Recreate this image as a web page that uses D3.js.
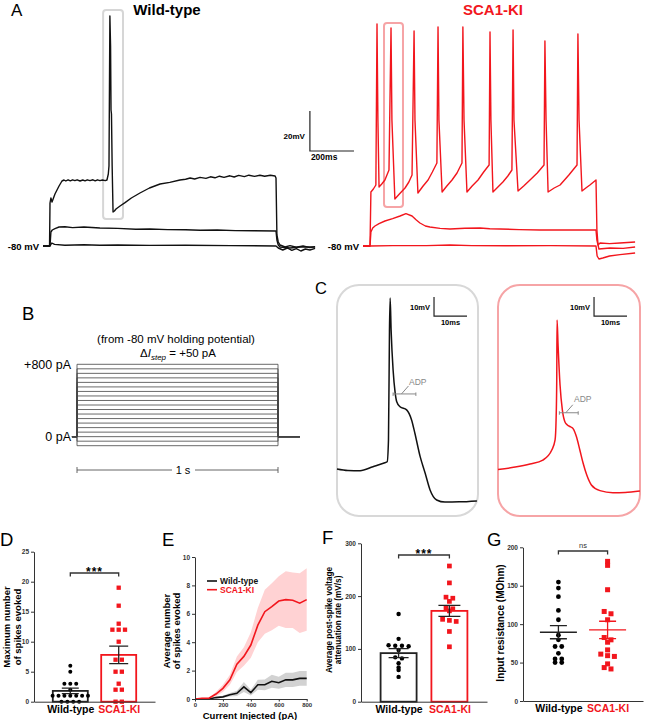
<!DOCTYPE html>
<html>
<head>
<meta charset="utf-8">
<script src="https://cdn.jsdelivr.net/npm/d3@7"></script>
<style>
  body { margin: 0; background: #fff; }
  svg { display: block; font-family: "Liberation Sans", Arial, sans-serif; }
</style>
</head>
<body>
<div id="fig"></div>
<script>
// ---------- data ----------
// A: example current-clamp traces, [time ms from step onset, membrane potential mV]
const wtTop = [[-31,-80],[-2,-80],[0,-58.5],[4,-56],[9,-58],[22,-54],[40,-50],[53,-47.5],[62,-47],[70,-47.5],[80,-46.9],[90,-47.4],[100,-46.9],[110,-47.3],[120,-46.9],[133,-47.5],[145,-47],[155,-47.4],[165,-46.9],[177,-47.3],[190,-46.9],[200,-47.4],[210,-46.9],[221,-47.3],[232,-47],[245,-47.3],[252,-47],[258,-44],[261,-40],[265,35],[268,20],[270,-12],[272,-14],[275,-40],[279,-63],[285,-62.5],[292,-61.5],[310,-60],[332,-58.3],[360,-56],[398,-53.5],[440,-51],[487,-49],[530,-48.2],[575,-47],[600,-46.6],[620,-46],[640,-46.5],[664,-45.7],[690,-46.2],[710,-45.4],[730,-45.9],[750,-45.1],[770,-45.7],[796,-44.9],[815,-45.5],[835,-44.7],[860,-45.3],[880,-44.6],[905,-45.2],[929,-44.6],[950,-45.1],[975,-44.6],[996,-45],[1000,-46],[1004,-74.5],[1010,-78],[1018,-79.5],[1040,-80.5],[1062,-79.8],[1090,-80.6],[1120,-80],[1150,-80.8],[1173,-80.3]];
const wtMid = [[-31,-80],[0,-80],[4,-73],[10,-72],[22,-71.3],[40,-70.5],[66,-70.4],[100,-70.8],[150,-70.5],[221,-71],[300,-71.2],[380,-71.6],[442,-71.5],[520,-71.8],[600,-71.9],[664,-72.1],[740,-72],[820,-72.3],[900,-72.4],[1000,-72.5],[1004,-77],[1010,-79.5],[1018,-80.5],[1062,-81],[1106,-80.5],[1173,-80.5]];
const wtBot = [[-31,-80],[0,-80],[8,-78.5],[20,-79.2],[66,-79.6],[150,-79.4],[221,-79.6],[300,-79.5],[440,-79.7],[600,-79.6],[800,-79.8],[1000,-80],[1010,-81],[1030,-82],[1050,-81],[1070,-82.2],[1090,-81.3],[1110,-82.5],[1130,-81.5],[1150,-82],[1173,-81.2]];

const kiTop = [[-31,-80],[0,-80],[4,-53],[15,-51.5],[26,-49.5],[31,31],[35,-17],[40,-50.5],[52,-49],[66,-47],[84,-42],[93,29],[97,-17],[110,-56.5],[130,-54],[155,-51],[172,-48],[186,-44.5],[195,27.5],[199,-17],[212,-53.5],[235,-50],[257,-47],[276,-43],[296,-38.5],[301,29.5],[305,-17],[319,-53],[340,-50],[363,-47],[385,-43.5],[407,-38.5],[411,29.5],[416,-17],[429,-53],[452,-50],[478,-47],[503,-43],[527,-39.5],[531,27],[535,-17],[544,-53],[566,-50.5],[588,-48],[610,-45],[628,-42],[633,28],[637,-17],[655,-52.5],[680,-50],[708,-47],[740,-43.5],[770,-39.5],[774,22.5],[779,-17],[788,-53],[815,-51],[841,-49.5],[880,-44.5],[916,-39.5],[920,26],[925,-17],[938,-52.5],[955,-51],[973,-49.5],[1000,-47],[1004,-72],[1009,-79.5],[1018,-78.5],[1060,-78.8],[1106,-78.5],[1173,-78]];
const kiMid = [[-31,-80],[0,-80],[4,-73],[12,-71],[22,-70],[40,-68.8],[66,-67.5],[100,-66.3],[133,-65],[159,-63.8],[186,-65],[205,-67],[221,-68.5],[245,-70],[265,-70.5],[310,-71.2],[354,-71.5],[420,-71.1],[487,-71],[530,-71.4],[575,-71.5],[660,-71.8],[752,-72],[880,-72],[1000,-72],[1004,-77],[1013,-81.5],[1062,-81],[1120,-81.2],[1173,-80.5]];
const kiBot = [[-31,-80],[0,-80],[100,-79.8],[250,-79.8],[354,-79.5],[450,-79.8],[600,-79.9],[800,-79.8],[1000,-80],[1005,-85],[1013,-86.5],[1030,-86],[1060,-85],[1106,-84.3],[1173,-83.5]];

// B: current steps (pA), 1 s duration
const stepLevels = [-100,-50,0,50,100,150,200,250,300,350,400,450,500,550,600,650,700,750,800];

// C: single action potentials, [time ms, mV]
const cWt = [[0,-55],[3.3,-55.8],[7,-55.9],[10.9,-53.8],[14.5,-51.7],[15.2,-51.2],[15.6,-39.7],[15.9,18],[16.1,35],[16.4,18],[17,-2.9],[17.6,-14.5],[18.1,-19.6],[19.1,-22.2],[21.1,-23.9],[22.6,-29.2],[23.6,-36.2],[25.2,-48.5],[26.7,-57.1],[28.2,-66],[30.2,-71.3],[32.7,-72.4],[37,-72.3],[42.4,-71.8]];
const cKi = [[0,-55.2],[5.2,-54],[9.7,-52.4],[13.6,-50.3],[16.3,-45],[17.3,-39.7],[17.6,-29.2],[17.8,-8.2],[17.9,23.4],[18.2,10.3],[18.8,-10.8],[19.5,-23.9],[20.3,-30.3],[21,-31.8],[22.1,-32.9],[22.8,-33.9],[23.8,-38.2],[24.8,-45],[25.8,-52],[26.9,-58.2],[28.3,-63.4],[30.9,-66.4],[34.8,-67.5],[38.5,-67.4],[43,-66.6]];
const adpWt = { t0: 17, t1: 23.9, v: -15.5 };
const adpKi = { t0: 18.6, t1: 24.3, v: -25.4 };

// D: maximum number of spikes evoked
const groups = ["Wild-type", "SCA1-KI"];
const dWt = [6,5,3,3,3,2,1,1,1,1,1,1,1,0,0,0,0];
const dKi = [19,16,13,12,12,12,10,7,7,5,5,3,2,2,0,0];
const dMean = [1.8, 7.8];
const dSem = [0.45, 1.45];

// E: average spikes vs injected current
const currents = [0,50,100,150,200,250,300,350,400,450,500,550,600,650,700,750,800];
const eWtMean = [0,0,0,0.1,0.15,0.3,0.4,0.85,0.45,1.0,1.0,1.25,1.15,1.35,1.35,1.45,1.45];
const eWtSem = [0,0,0,0.05,0.08,0.12,0.18,0.35,0.2,0.35,0.38,0.45,0.42,0.5,0.5,0.52,0.52];
const eKiMean = [0,0.05,0.05,0.35,0.75,1.35,2.45,3.0,3.8,5.2,6.15,6.5,6.9,7.0,6.95,6.75,7.0];
const eKiSem = [0,0.03,0.03,0.15,0.25,0.35,0.55,0.65,0.9,1.2,1.55,1.65,1.75,2.0,1.95,2.1,2.2];

// F: post-spike voltage attenuation rate (mV/s)
const fWt = [166,119,107,106,105,106,98,84,82,73,65,60,47];
const fKi = [257,225,198,196,190,178,176,172,156,154,152,133,104];
const fMean = [92, 172];
const fSem = [8.5, 10.5];

// G: input resistance (MOhm)
const gWt = [154.8,147,135.7,117.8,105.7,85.7,79.6,70.9,70.9,62,54.8,54.8,50,50];
const gKi = [181.7,176.5,144.8,116.5,113.5,105.7,82.6,79.6,76.5,66.5,61,59,58,48.3,43.5,41.7];
const gMean = [89.5, 92.5];
const gSem = [8.5, 11.3];

// ---------- setup ----------
const width = 648, height = 720;
const RED = "#f2161d";
const FONT = "'Liberation Sans', Arial, sans-serif";
const TICK_FONT = 6.5;

const svg = d3.select("#fig")
  .append("svg")
  .attr("width", width)
  .attr("height", height)
  .attr("viewBox", `0 0 ${width} ${height}`);

const label = (txt, x, y, size, opts = {}) => svg.append("text")
  .attr("x", x).attr("y", y)
  .attr("font-size", size)
  .attr("font-weight", opts.bold ? "bold" : null)
  .attr("fill", opts.fill || "#000")
  .attr("text-anchor", opts.anchor || "start")
  .text(txt);

const traceLine = (xs, ys, curve) => d3.line()
  .x(d => xs(d[0]))
  .y(d => ys(d[1]))
  .curve(curve || d3.curveLinear);

const drawTrace = (data, xs, ys, color, w, curve) => svg.append("path")
  .datum(data)
  .attr("d", traceLine(xs, ys, curve))
  .attr("fill", "none")
  .attr("stroke", color)
  .attr("stroke-width", w)
  .attr("stroke-linejoin", "round");

// ---------- panel A ----------
label("A", 11, 16, 17);
label("Wild-type", 167, 15, 15, { bold: true, anchor: "middle" });
label("SCA1-KI", 493, 15, 15, { bold: true, anchor: "middle", fill: RED });

const xAwt = d3.scaleLinear().domain([0, 1000]).range([50, 276]);
const xAki = d3.scaleLinear().domain([0, 1000]).range([370, 596]);
const yA = d3.scaleLinear().domain([-80, -12.5]).range([246, 111]);

// highlight boxes around the spikes shown in C
svg.append("rect")
  .attr("x", xAwt(235)).attr("y", yA(38))
  .attr("width", xAwt(323) - xAwt(235)).attr("height", yA(-66.5) - yA(38))
  .attr("rx", 3).attr("fill", "none").attr("stroke", "#d6d6d6").attr("stroke-width", 2);
svg.append("rect")
  .attr("x", xAki(62)).attr("y", yA(31.5))
  .attr("width", xAki(146) - xAki(62)).attr("height", yA(-60.5) - yA(31.5))
  .attr("rx", 3).attr("fill", "none").attr("stroke", "#f6a4a6").attr("stroke-width", 2);

[wtBot, wtMid, wtTop].forEach(d => drawTrace(d, xAwt, yA, "#111", 1.4));
[kiBot, kiMid, kiTop].forEach(d => drawTrace(d, xAki, yA, RED, 1.4));

label("-80 mV", 39, 249.5, 9.5, { bold: true, anchor: "end" });
label("-80 mV", 359, 249.5, 9.5, { bold: true, anchor: "end" });

// scale bar 20 mV / 200 ms
svg.append("path")
  .attr("d", `M${xAwt(1150)},${yA(-12.5)}V${yA(-32.5)}H${xAwt(1345)}`)
  .attr("fill", "none").attr("stroke", "#222").attr("stroke-width", 1.2);
label("20mV", xAwt(1150) - 5, 139, 8, { bold: true, anchor: "end" });
label("200ms", xAwt(1150) + 1, 159.5, 8.5, { bold: true });

// ---------- panel B ----------
label("B", 22, 320, 18.5);
const xB = d3.scaleLinear().domain([0, 1000]).range([77, 278]);
const yB = d3.scaleLinear().domain([-100, 800]).range([445.7, 364.3]);

stepLevels.forEach(lv => {
  svg.append("path")
    .datum([[-25, 0], [0, 0], [0, lv], [1000, lv], [1000, 0], [1109, 0]])
    .attr("d", traceLine(xB, yB))
    .attr("fill", "none")
    .attr("stroke", "#444")
    .attr("stroke-width", 0.8);
});

label("(from -80 mV holding potential)", 176, 343, 11.5, { anchor: "middle" });
const dI = svg.append("text").attr("x", 178).attr("y", 357).attr("font-size", 11.5).attr("text-anchor", "middle");
dI.append("tspan").text("Δ");
dI.append("tspan").attr("font-style", "italic").text("I");
dI.append("tspan").attr("font-style", "italic").attr("font-size", 8).attr("dy", 2.5).text("step");
dI.append("tspan").attr("dy", -2.5).text(" = +50 pA");
label("+800 pA", 71, 369, 12.5, { anchor: "end" });
label("0 pA", 71, 441, 12.5, { anchor: "end" });

// 1 s scale bar
const sbY = 470;
svg.append("path")
  .attr("d", `M${xB(0)},${sbY - 3}V${sbY + 3}M${xB(0)},${sbY}H${xB(1000)}M${xB(1000)},${sbY - 3}V${sbY + 3}`)
  .attr("stroke", "#555").attr("stroke-width", 0.9).attr("fill", "none");
svg.append("rect").attr("x", 172).attr("y", sbY - 6).attr("width", 23).attr("height", 12).attr("fill", "#fff");
label("1 s", 183, 474, 11, { anchor: "middle" });

// ---------- panel C ----------
label("C", 315, 294, 16.5);
svg.append("rect").attr("x", 337).attr("y", 285).attr("width", 141).attr("height", 231)
  .attr("rx", 22).attr("fill", "none").attr("stroke", "#d8d8d8").attr("stroke-width", 2);
svg.append("rect").attr("x", 498).attr("y", 285).attr("width", 142).attr("height", 231)
  .attr("rx", 22).attr("fill", "none").attr("stroke", "#f6a4a6").attr("stroke-width", 2);

const xCwt = d3.scaleLinear().domain([0, 10]).range([337, 370]);
const xCki = d3.scaleLinear().domain([0, 10]).range([498, 531]);
const yC = d3.scaleLinear().domain([35, 25]).range([298, 317]);

drawTrace(cWt, xCwt, yC, "#111", 1.5, d3.curveMonotoneX);
drawTrace(cKi, xCki, yC, RED, 1.5, d3.curveMonotoneX);

const drawAdp = (adp, xs, lx, ly) => {
  const x0 = xs(adp.t0), x1 = xs(adp.t1), y = yC(adp.v), xm = (x0 + x1) / 2;
  svg.append("path")
    .attr("d", `M${x0},${y}H${x1}M${x0},${y - 1.5}V${y + 2}M${x1},${y - 1.5}V${y + 2}M${xm - 3},${y}L${xm + 4},${y - 8}`)
    .attr("stroke", "#888").attr("stroke-width", 1).attr("fill", "none");
  label("ADP", lx, ly, 8.5, { fill: "#888" });
};
drawAdp(adpWt, xCwt, 409, 385);
drawAdp(adpKi, xCki, 574, 402);

const drawCbar = (xs, t) => {
  svg.append("path")
    .attr("d", `M${xs(t)},${yC(35.5)}V${yC(25.5)}H${xs(t + 10)}`)
    .attr("fill", "none").attr("stroke", "#222").attr("stroke-width", 1.2);
  label("10mV", xs(t) - 4, 310, 7.5, { bold: true, anchor: "end" });
  label("10ms", xs(t + 5), 325, 7.5, { bold: true, anchor: "middle" });
};
drawCbar(xCwt, 29.4);
drawCbar(xCki, 29.1);

// ---------- shared helpers for D-G ----------
const styleAxis = (g, size) => {
  g.attr("font-family", FONT);
  g.select(".domain").attr("stroke", "#333").attr("stroke-width", 1);
  g.selectAll(".tick line").attr("stroke", "#333");
  g.selectAll(".tick text").attr("font-size", size).attr("font-weight", "bold").attr("fill", "#333");
};

const catAxis = (xScale, y, size) => {
  const g = svg.append("g")
    .attr("transform", `translate(0,${y})`)
    .call(d3.axisBottom(xScale).tickSize(0).tickPadding(4));
  styleAxis(g, size);
  g.selectAll(".tick text").attr("fill", (d, i) => i === 0 ? "#000" : RED);
  return g;
};

const leftAxis = (yScale, x, ticks) => {
  const g = svg.append("g")
    .attr("transform", `translate(${x},0)`)
    .call(d3.axisLeft(yScale).tickValues(ticks).tickSize(3).tickPadding(2).tickSizeOuter(0));
  styleAxis(g, TICK_FONT);
  return g;
};

const yTitle = (lines, xs, cy, size) => {
  lines.forEach((t, i) => {
    svg.append("text")
      .attr("transform", `translate(${xs[i]},${cy}) rotate(-90)`)
      .attr("text-anchor", "middle")
      .attr("font-size", size)
      .attr("font-weight", "bold")
      .text(t);
  });
};

// simple scatter layout: points with (almost) equal values share a row, spread around the centre
const swarm = (values, yScale, cx, gap) => {
  const rows = [];
  values.slice().sort((a, b) => b - a).forEach(v => {
    const last = rows[rows.length - 1];
    if (last && Math.abs(yScale(last[0]) - yScale(v)) <= 2.5) last.push(v);
    else rows.push([v]);
  });
  const out = [];
  rows.forEach(r => r.forEach((v, i) => out.push({ x: cx + (i - (r.length - 1) / 2) * gap, y: yScale(v) })));
  return out;
};

const dots = (pts, r) => svg.append("g").selectAll("circle")
  .data(pts).join("circle")
  .attr("cx", d => d.x).attr("cy", d => d.y).attr("r", r).attr("fill", "#000");

const squares = (pts, s) => svg.append("g").selectAll("rect")
  .data(pts).join("rect")
  .attr("x", d => d.x - s / 2).attr("y", d => d.y - s / 2)
  .attr("width", s).attr("height", s).attr("fill", RED);

const errBar = (cx, yScale, mean, sem, capW, color, w) => {
  svg.append("path")
    .attr("d", `M${cx},${yScale(mean - sem)}V${yScale(mean + sem)}` +
      `M${cx - capW / 2},${yScale(mean + sem)}H${cx + capW / 2}` +
      `M${cx - capW / 2},${yScale(mean - sem)}H${cx + capW / 2}`)
    .attr("stroke", color).attr("stroke-width", w).attr("fill", "none");
};

const bracket = (x0, x1, y, txt, size, opts = {}) => {
  svg.append("path")
    .attr("d", `M${x0},${y + 3.5}V${y}H${x1}V${y + 3.5}`)
    .attr("fill", "none").attr("stroke", "#333").attr("stroke-width", 1.3);
  svg.append("text")
    .attr("x", (x0 + x1) / 2).attr("y", y + (opts.dy || 0))
    .attr("text-anchor", "middle")
    .attr("font-size", size)
    .attr("font-weight", opts.bold ? "bold" : null)
    .attr("letter-spacing", opts.ls || 0)
    .attr("fill", opts.fill || "#000")
    .text(txt);
};

const bars = (xScale, yScale, means, bw) => {
  svg.append("g").selectAll("rect")
    .data(means).join("rect")
    .attr("x", (d, i) => xScale(groups[i]) - bw / 2)
    .attr("y", d => yScale(d))
    .attr("width", bw)
    .attr("height", d => yScale(0) - yScale(d))
    .attr("fill", "#fff")
    .attr("stroke", (d, i) => i === 0 ? "#222" : RED)
    .attr("stroke-width", 1.8);
};

// ---------- panel D ----------
label("D", 0, 546, 18.5);
const xD = d3.scalePoint().domain(groups).range([34, 155]).padding(0.75);
const yD = d3.scaleLinear().domain([0, 25]).range([701.7, 551.7]);

bars(xD, yD, dMean, 35);
dots(swarm(dWt, yD, xD(groups[0]), 5.9), 2);
squares(swarm(dKi, yD, xD(groups[1]), 6.3), 4.3);
errBar(xD(groups[0]), yD, dMean[0], dSem[0], 17, "#222", 1.3);
errBar(xD(groups[1]), yD, dMean[1], dSem[1], 19, "#222", 1.3);
leftAxis(yD, 34, [0, 5, 10, 15, 20, 25]);
catAxis(xD, 701.7, 10.5);
bracket(xD(groups[0]), xD(groups[1]), 573, "***", 12, { bold: true, dy: 3, ls: 1 });
yTitle(["Maximum number", "of spikes evoked"], [10, 20.5], 627, 9.5);

// ---------- panel E ----------
label("E", 162, 546, 18.5);
const xE = d3.scaleLinear().domain([0, 800]).range([195, 306.7]);
const yE = d3.scaleLinear().domain([0, 10]).range([699, 557]);

const band = (mean, sem, fill) => svg.append("path")
  .datum(currents.map((c, i) => [c, mean[i], sem[i]]))
  .attr("d", d3.area().x(d => xE(d[0])).y0(d => yE(d[1] - d[2])).y1(d => yE(d[1] + d[2])))
  .attr("fill", fill);
band(eWtMean, eWtSem, "#d2d2d2");
band(eKiMean, eKiSem, "#ffd2d3");

const meanLine = (mean, color) => svg.append("path")
  .datum(currents.map((c, i) => [c, mean[i]]))
  .attr("d", traceLine(xE, yE))
  .attr("fill", "none").attr("stroke", color).attr("stroke-width", 1.6);
meanLine(eWtMean, "#111");
meanLine(eKiMean, RED);

leftAxis(yE, 195, [0, 2, 4, 6, 8, 10]);
const gxE = svg.append("g")
  .attr("transform", `translate(0,699)`)
  .call(d3.axisBottom(xE).tickValues([0, 200, 400, 600, 800]).tickSize(2.5).tickPadding(1).tickSizeOuter(0));
styleAxis(gxE, 6);

label("Current Injected (pA)", 250, 718.5, 9.5, { bold: true, anchor: "middle" });
yTitle(["Average number", "of spikes evoked"], [170, 180], 631, 9.5);

// legend
const legend = svg.append("g").attr("transform", "translate(207,581)");
[["Wild-type", "#111"], ["SCA1-KI", RED]].forEach(([name, c], i) => {
  legend.append("line").attr("x1", 0).attr("x2", 10).attr("y1", i * 8.7).attr("y2", i * 8.7)
    .attr("stroke", c).attr("stroke-width", 1.6);
  legend.append("text").attr("x", 13).attr("y", i * 8.7 + 3)
    .attr("font-size", 8.5).attr("font-weight", "bold").attr("fill", c).text(name);
});

// ---------- panel F ----------
label("F", 322, 544, 18.5);
const xF = d3.scalePoint().domain(groups).range([361, 487]).padding(0.74);
const yF = d3.scaleLinear().domain([0, 300]).range([701.7, 543.3]);

bars(xF, yF, fMean, 36);
dots(swarm(fWt, yF, xF(groups[0]), 6.7), 2.2);
squares(swarm(fKi, yF, xF(groups[1]), 6.8), 4.7);
errBar(xF(groups[0]), yF, fMean[0], fSem[0], 20, "#222", 1.3);
errBar(xF(groups[1]), yF, fMean[1], fSem[1], 22, "#222", 1.3);
leftAxis(yF, 361, [0, 100, 200, 300]);
catAxis(xF, 701.7, 10.5);
bracket(xF(groups[0]), xF(groups[1]), 555, "***", 12, { bold: true, dy: 3, ls: 1 });
yTitle(["Average post-spike voltage", "attenuation rate (mV/s)"], [332, 341], 620, 8.2);

// ---------- panel G ----------
label("G", 487, 546, 18.5);
const xG = d3.scalePoint().domain(groups).range([523, 643]).padding(0.72);
const yG = d3.scaleLinear().domain([0, 200]).range([701, 547.3]);

dots(swarm(gWt, yG, xG(groups[0]), 6.7), 2.4);
squares(swarm(gKi, yG, xG(groups[1]), 6.8), 5);
[[0, "#222"], [1, RED]].forEach(([i, c]) => {
  const cx = xG(groups[i]);
  svg.append("line")
    .attr("x1", cx - 18.5).attr("x2", cx + 18.5)
    .attr("y1", yG(gMean[i])).attr("y2", yG(gMean[i]))
    .attr("stroke", c).attr("stroke-width", 1.4);
  errBar(cx, yG, gMean[i], gSem[i], 17, c, 1.3);
});
leftAxis(yG, 523, [0, 50, 100, 150, 200]);
catAxis(xG, 701, 10.5);
bracket(xG(groups[0]), xG(groups[1]), 551, "ns", 7.5, { dy: -3, fill: "#333" });
yTitle(["Input resistance (MOhm)"], [503.5], 623, 10);
</script>
</body>
</html>
